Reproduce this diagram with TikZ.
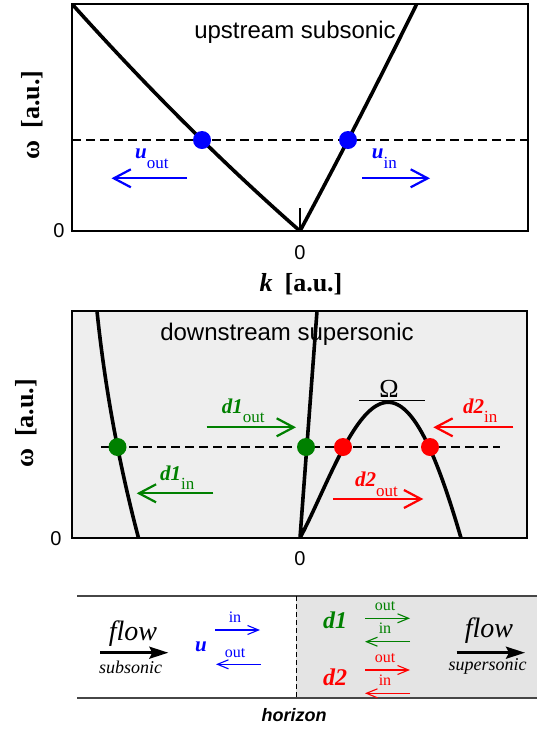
\documentclass[tikz,border=0pt]{standalone}
\usepackage{fontspec}
\newfontfamily\tms{Liberation Serif}
\newfontfamily\arl{Liberation Sans}
\usetikzlibrary{arrows.meta}
\definecolor{cblue}{RGB}{0,0,255}
\definecolor{cgreen}{RGB}{0,128,0}
\definecolor{cred}{RGB}{255,0,0}
\definecolor{panelgray}{RGB}{238,238,238}
\definecolor{horgray}{RGB}{228,228,228}
\definecolor{rulegray}{RGB}{70,70,70}
\newcommand\fsz[1]{\fontsize{#1}{#1}\selectfont}
\newcommand\wlab[2]{{\bfseries\itshape #1}{\fsz{17}\raisebox{-9.5pt}{#2}}}
\begin{document}
\begin{tikzpicture}[x=1pt,y=-1pt,
  spine/.style={line width=1.3pt},
  tickmark/.style={line width=2pt},
  curve/.style={line width=3.6pt},
  level/.style={line width=1.3pt,dash pattern=on 8.5pt off 5.5pt},
  dot/.style={circle,inner sep=0pt,minimum size=18pt},
  warrow/.style={line width=2.2pt,-{Straight Barb[length=17pt,width=18pt]}},
  sarrow/.style={line width=1.1pt,-{Straight Barb[length=11pt,width=9pt]}},
  flowarrow/.style={line width=2.6pt,-{Stealth[length=19pt,width=12pt,inset=3pt]}},
  wavelbl/.style={font=\tms\fsz{21},anchor=base west,inner sep=0pt},
  axlbl/.style={font=\tms\bfseries\fsz{26},anchor=base},
  numlbl/.style={font=\arl\fsz{20},inner sep=0pt},
  title/.style={font=\arl\fsz{24},anchor=base,inner sep=0pt},
  small/.style={font=\tms\fsz{16},anchor=base,inner sep=0pt},
  ital/.style={anchor=base,inner sep=0pt}
]
\useasboundingbox (0,0) rectangle (537,729);

% ---------------- top panel ----------------
\node[title] (ttitle) at (295,38.5) {upstream subsonic};
\draw[level] (72,140) -- (528,140);
\begin{scope}
  \clip (72,4) rectangle (528,231);
  \draw[curve] plot[domain=2.28:0,samples=40] ({300-100*\x},{231-87.8*\x-5.16*\x*\x})
     -- plot[domain=0:1.167,samples=30] ({300+100*\x},{231-186.1*\x-7.18*\x*\x});
\end{scope}
\draw[spine] (72,4) rectangle (528,231);
\draw[tickmark] (300,231) -- (300,208) (72,231) -- (93,231) (507,231) -- (528,231)
   (72,231) -- (72,208) (528,231) -- (528,208);
\node[dot,fill=cblue] (uo) at (202,140) {};
\node[dot,fill=cblue] (ui) at (348,140) {};
\coordinate (uoa) at (187,178.3); \coordinate (uob) at (111.5,178.3);
\coordinate (uia) at (362,178.3); \coordinate (uib) at (430,178.3);
\draw[warrow,cblue] (uoa) -- (uob);
\draw[warrow,cblue] (uia) -- (uib);
\node[wavelbl,text=cblue] (uol) at (135,158.5) {\wlab{u}{out}};
\node[wavelbl,text=cblue] (uil) at (371.7,158.5) {\wlab{u}{in}};
\node[axlbl,rotate=90] (yl1) at (39,115) {ω\hspace{12pt}[a.u.]};
\node[axlbl] (xl) at (301,291) {\textit{k}\hspace{12pt}[a.u.]};
\node[numlbl] (z1) at (59,231) {0};
\node[numlbl] (z2) at (300,253) {0};

% ---------------- middle panel ----------------
\fill[panelgray] (72,311) rectangle (527,538);
\node[title] (mtitle) at (287,340) {downstream supersonic};
\draw[level] (101,447) -- (500,447);
\begin{scope}
  \clip (72,311) rectangle (527,538);
  \draw[curve] plot[domain=0:2.27,samples=30] ({138.5-26.29*\x+3.526*\x*\x},{538-100*\x});
  \draw[curve] (317,311) -- (300,538)
     -- plot[domain=0:1.61,samples=80] ({300+100*\x},{538-\x*(161-100*\x)*(1.1727+1.6373*\x-0.6466*\x*\x)});
\end{scope}
\draw[spine] (72,311) rectangle (527,538);
\draw[tickmark] (72,538) -- (93,538) (506,538) -- (527,538)
   (72,538) -- (72,515) (527,538) -- (527,515);
\draw[line width=1.3pt] (359,400.7) -- (425,400.7);
\node[font=\tms\fsz{26}] (om) at (389,388.5) {Ω};
\node[dot,fill=cgreen] (g1) at (117.5,447) {};
\node[dot,fill=cgreen] (g2) at (306,447) {};
\node[dot,fill=cred] (r1) at (343,447) {};
\node[dot,fill=cred] (r2) at (430,447) {};
\coordinate (d1oa) at (206.7,427.3); \coordinate (d1ob) at (296,427.3);
\coordinate (d1ia) at (213.3,493.3); \coordinate (d1ib) at (136.7,493.3);
\coordinate (d2ia) at (513.3,427.3); \coordinate (d2ib) at (433.3,427.3);
\coordinate (d2oa) at (333.3,499); \coordinate (d2ob) at (423.3,499);
\draw[warrow,cgreen] (d1oa) -- (d1ob);
\draw[warrow,cgreen] (d1ia) -- (d1ib);
\draw[warrow,cred] (d2ia) -- (d2ib);
\draw[warrow,cred] (d2oa) -- (d2ob);
\node[wavelbl,text=cgreen] (d1ol) at (221.7,413.3) {\wlab{d1}{out}};
\node[wavelbl,text=cgreen] (d1il) at (160,480) {\wlab{d1}{in}};
\node[wavelbl,text=cred] (d2il) at (463,413.3) {\wlab{d2}{in}};
\node[wavelbl,text=cred] (d2ol) at (355,486.7) {\wlab{d2}{out}};
\node[axlbl,rotate=90] (yl2) at (33,423.3) {ω\hspace{12pt}[a.u.]};
\node[numlbl] (z3) at (56,538.5) {0};
\node[numlbl] (z4) at (300,559) {0};

% ---------------- bottom panel ----------------
\fill[horgray] (296,596) rectangle (537,698);
\draw[line width=1.3pt,rulegray] (77,596) -- (537,596) (77,698) -- (537,698);
\draw[line width=1pt,dash pattern=on 5pt off 3pt] (296,596) -- (296,698);
\node[ital,font=\tms\itshape\fsz{28}] (fl1) at (133,640) {flow};
\node[ital,font=\tms\itshape\fsz{18}] (sub) at (130.5,673.3) {subsonic};
\coordinate (fa1) at (100,652.7); \coordinate (fb1) at (168.3,652.7);
\draw[flowarrow] (fa1) -- (fb1);
\node[ital,font=\tms\itshape\fsz{28}] (fl2) at (489,637) {flow};
\node[ital,font=\tms\itshape\fsz{18}] (sup) at (487.5,670.7) {supersonic};
\coordinate (fa2) at (456.7,652.7); \coordinate (fb2) at (525,652.7);
\draw[flowarrow] (fa2) -- (fb2);

\node[ital,font=\tms\bfseries\itshape\fsz{21},text=cblue] (bu) at (201,651.7) {u};
\node[small,text=cblue] (bui) at (235,622.7) {in};
\node[small,text=cblue] (buo) at (235,657.3) {out};
\draw[sarrow,cblue] (215,630) coordinate (p1) -- (260,630) coordinate (p2);
\draw[sarrow,cblue] (261,664.3) coordinate (p3) -- (216,664.3) coordinate (p4);

\node[ital,font=\tms\bfseries\itshape\fsz{24},text=cgreen] (bd1) at (335,628.3) {d1};
\node[small,text=cgreen] (bd1o) at (385,610.7) {out};
\node[small,text=cgreen] (bd1i) at (385,633.3) {in};
\draw[sarrow,cgreen] (365,618.3) coordinate (p5) -- (410,618.3) coordinate (p6);
\draw[sarrow,cgreen] (410,641.7) coordinate (p7) -- (365,641.7) coordinate (p8);

\node[ital,font=\tms\bfseries\itshape\fsz{24},text=cred] (bd2) at (335,685) {d2};
\node[small,text=cred] (bd2o) at (385,662.7) {out};
\node[small,text=cred] (bd2i) at (385,685) {in};
\draw[sarrow,cred] (365,670) coordinate (p9) -- (410,670) coordinate (p10);
\draw[sarrow,cred] (410,693.3) coordinate (p11) -- (365,693.3) coordinate (p12);

\node[ital,font=\arl\bfseries\itshape\fsz{18}] (hor) at (294,721.7) {horizon};
\end{tikzpicture}
\end{document}
